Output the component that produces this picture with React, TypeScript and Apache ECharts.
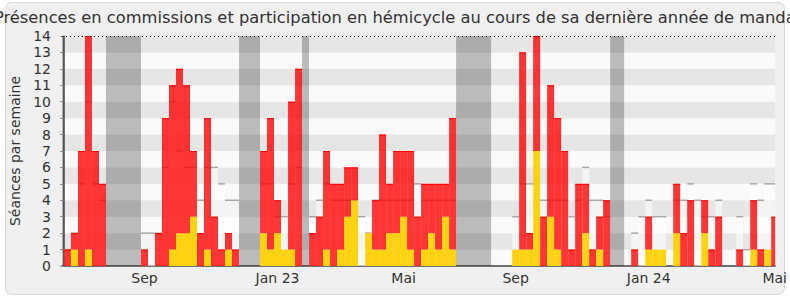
import React, { useEffect, useRef } from 'react';
import * as echarts from 'echarts';

const TITLE = 'Présences en commissions et participation en hémicycle au cours de sa dernière année de mandat';
const Y_NAME = 'Séances par semaine';

// one entry per week (index 0..101)
const hemicycle = [
  0, 1, 0, 1, 0, 0, 0, 0, 0, 0,
  0, 0, 0, 0, 0, 1, 2, 2, 3, 0,
  1, 0, 0, 1, 0, 0, 0, 0, 2, 1,
  2, 1, 1, 0, 0, 0, 0, 1, 0, 1,
  3, 4, 0, 2, 1, 1, 2, 2, 3, 1,
  0, 1, 2, 1, 3, 1, 0, 0, 0, 0,
  0, 0, 0, 0, 1, 1, 1, 7, 0, 3,
  1, 0, 0, 0, 2, 0, 1, 0, 0, 0,
  0, 0, 0, 1, 1, 1, 0, 2, 0, 0,
  0, 2, 0, 0, 0, 0, 0, 0, 1, 0,
  1, 0,
];
const commission = [
  1, 1, 7, 13, 7, 5, 0, 0, 0, 0,
  0, 1, 0, 2, 9, 10, 10, 9, 4, 2,
  8, 3, 1, 1, 1, 0, 0, 0, 5, 8,
  2, 0, 9, 12, 0, 2, 3, 6, 5, 4,
  3, 2, 0, 0, 3, 7, 3, 5, 4, 6,
  3, 4, 3, 4, 2, 8, 0, 0, 0, 0,
  0, 0, 0, 0, 0, 12, 1, 7, 3, 8,
  8, 7, 1, 5, 3, 1, 2, 4, 0, 0,
  0, 1, 0, 2, 0, 0, 0, 3, 2, 4,
  0, 2, 1, 3, 0, 0, 1, 0, 3, 1,
  0, 3,
];
const median = [
  1, 2, 5, 10, 5, 4, 0, 0, 0, 0,
  0, 2, 2, 2, 6, 10, 7, 6, 6, 4,
  6, 6, 5, 4, 4, 0, 0, 0, 5, 5,
  3, 3, 5, 6, 0, 3, 4, 5, 4, 4,
  4, 4, 3, 2, 4, 4, 4, 4, 4, 4,
  5, 4, 4, 4, 4, 4, 0, 0, 0, 0,
  0, 0, 0, 0, 3, 5, 5, 5, 4, 4,
  4, 4, 3, 4, 6, 4, 4, 3, 0, 0,
  0, 2, 3, 4, 3, 3, 0, 4, 4, 5,
  4, 3, 3, 4, 0, 0, 3, 1, 5, 4,
  5, 5,
];
const weeks = hemicycle.map((_, i) => i);

// parliamentary holidays, in week indices [start, end)
const holidayStart = [-1, 6, 25, 34, 56, 78];
const holidayEnd = [0, 11, 28, 35, 61, 80];

const monthWeeks = [11, 30, 48, 64, 83, 101];
const monthLabels = ['Sep', 'Jan 23', 'Mai', 'Sep', 'Jan 24', 'Mai'];

const X_MIN = -0.28;
const X_MAX = 101.56;
const FONT = 'DejaVu Sans';

export default function App() {
  const ref = useRef<HTMLDivElement>(null);

  useEffect(() => {
    document.body.style.margin = '0';
    if (!ref.current) return;
    const chart = echarts.init(ref.current, null, { renderer: 'svg' });

    const labelValues = monthWeeks.map((k) => k + 0.5);

    const renderWeek = (params: any, api: any) => {
      const k = api.value(0);
      const h = api.value(1);
      const c = api.value(2);
      const m = api.value(3);
      const cs = params.coordSys;
      const xa = api.coord([k, 0])[0];
      const xb = api.coord([k + 1, 0])[0];
      const x0 = Math.max(xa, cs.x);
      const x1 = Math.min(xb, cs.x + cs.width);
      if (x1 <= x0) return null;
      const w = x1 - x0;
      const y0 = api.coord([k, 0])[1];
      const yM = api.coord([k, m])[1];
      const yH = api.coord([k, h])[1];
      const yT = api.coord([k, h + c])[1];
      const children: any[] = [];
      if (m > 0) {
        children.push({ type: 'rect', shape: { x: x0, y: yM, width: w, height: y0 - yM }, style: { fill: 'rgba(255,255,255,0.55)' } });
        children.push({ type: 'line', shape: { x1: x0, y1: yM, x2: x1, y2: yM }, style: { stroke: '#a8a8a8', lineWidth: 1.5 } });
      }
      if (h > 0) {
        children.push({ type: 'rect', shape: { x: x0, y: yH, width: w, height: y0 - yH }, style: { fill: 'rgba(255,208,0,0.93)' } });
      }
      if (c > 0) {
        children.push({ type: 'rect', shape: { x: x0, y: yT, width: w, height: yH - yT }, style: { fill: 'rgba(255,0,0,0.79)' } });
        children.push({ type: 'line', shape: { x1: x0, y1: yT + 0.5, x2: x1, y2: yT + 0.5 }, style: { stroke: '#ff0000', lineWidth: 1 } });
      }
      return { type: 'group', children };
    };

    const renderHoliday = (params: any, api: any) => {
      const cs = params.coordSys;
      const xa = api.coord([api.value(0), 0])[0];
      const xb = api.coord([api.value(1), 0])[0];
      const x0 = Math.max(xa, cs.x);
      const x1 = Math.min(xb, cs.x + cs.width);
      if (x1 <= x0) return null;
      return { type: 'rect', shape: { x: x0, y: cs.y, width: x1 - x0, height: cs.height }, style: { fill: 'rgba(0,0,0,0.25)' } };
    };

    chart.setOption({
      animation: false,
      textStyle: { fontFamily: FONT },
      graphic: [
        {
          type: 'rect',
          z: -10,
          silent: true,
          shape: { x: 5.5, y: 2.5, width: 779, height: 292, r: 6 },
          style: { fill: '#f0f0f0', stroke: '#dadada', lineWidth: 1 },
        },
        {
          type: 'text',
          z: 10,
          silent: true,
          x: 398,
          y: 17,
          style: {
            text: TITLE,
            fontFamily: FONT,
            fontSize: 16.3,
            fill: '#333',
            align: 'center',
            verticalAlign: 'middle',
          },
        },
      ],
      grid: { left: 62, right: 10, top: 36, bottom: 34, containLabel: false },
      xAxis: {
        type: 'value',
        min: X_MIN,
        max: X_MAX,
        axisLine: { show: true, lineStyle: { color: '#444', width: 1.5 } },
        axisTick: { show: false },
        splitLine: { show: false },
        axisLabel: {
          customValues: labelValues,
          formatter: (v: number) => {
            const i = labelValues.findIndex((x) => Math.abs(x - v) < 1e-6);
            return i >= 0 ? monthLabels[i] : '';
          },
          fontFamily: FONT,
          fontSize: 14,
          color: '#333',
          margin: 5,
          showMinLabel: true,
          showMaxLabel: true,
        },
      },
      yAxis: {
        type: 'value',
        min: 0,
        max: 14,
        interval: 1,
        name: Y_NAME,
        nameLocation: 'middle',
        nameGap: 40,
        nameTextStyle: { fontFamily: FONT, fontSize: 14, color: '#333' },
        axisLine: { show: true, lineStyle: { color: '#444', width: 1.5 } },
        axisTick: { show: true, length: 4, lineStyle: { color: '#999' } },
        axisLabel: { fontFamily: FONT, fontSize: 14, color: '#333', margin: 11 },
        splitLine: { show: false },
        splitArea: { show: true, areaStyle: { color: ['#fafafa', '#e6e6e6'] } },
      },
      series: [
        {
          type: 'custom',
          name: 'semaines',
          renderItem: renderWeek,
          dimensions: ['semaine', 'hemicycle', 'commission', 'mediane'],
          encode: { x: 0, y: [1, 2, 3] },
          data: weeks.map((k, i) => [k, hemicycle[i], commission[i], median[i]]),
          z: 2,
        },
        {
          type: 'custom',
          name: 'vacances',
          renderItem: renderHoliday,
          encode: { x: [0, 1] },
          data: holidayStart.map((s, i) => [s, holidayEnd[i]]),
          z: 3,
        },
        {
          type: 'line',
          name: 'max',
          data: [],
          symbol: 'none',
          markLine: {
            silent: true,
            symbol: 'none',
            label: { show: false },
            lineStyle: { type: [1, 3], color: '#000', width: 1 },
            data: [{ yAxis: 14 }],
          },
        },
      ],
    });

    return () => chart.dispose();
  }, []);

  return <div ref={ref} style={{ width: 790, height: 300 }} />;
}
